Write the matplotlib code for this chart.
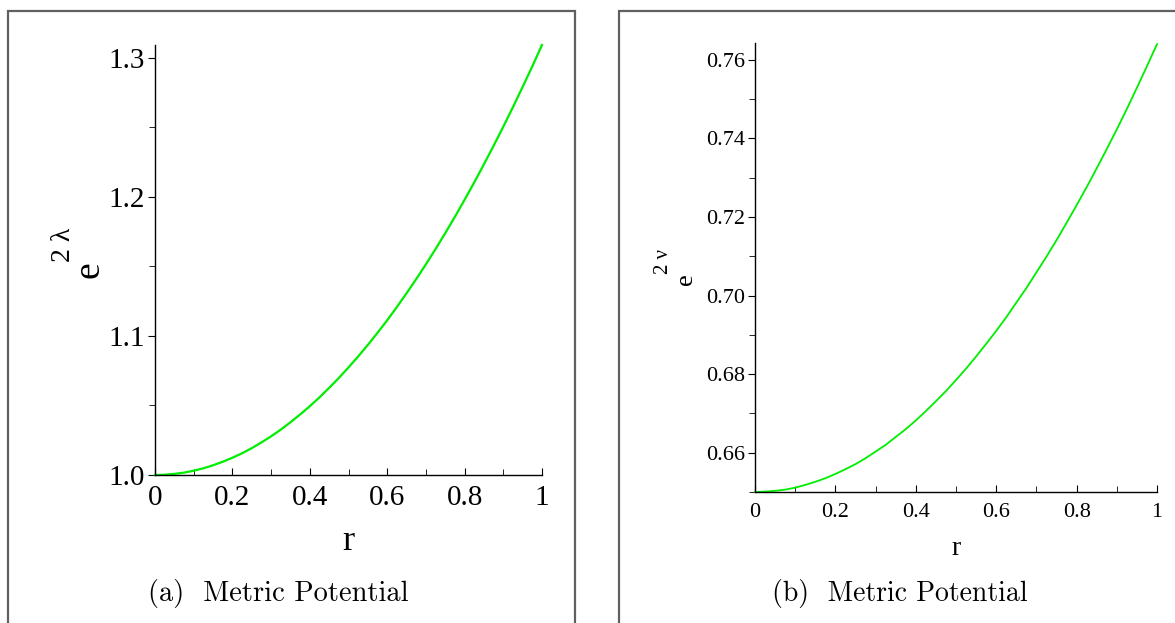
import matplotlib
matplotlib.use("Agg")
import matplotlib.pyplot as plt
from matplotlib.patches import Rectangle
from matplotlib.ticker import MultipleLocator, FormatStrFormatter

# values, r in steps of 0.025
r = [i * 0.025 for i in range(41)]
e2lambda = [1.0000, 1.0002, 1.0008, 1.0017, 1.0031, 1.0048, 1.0070, 1.0095, 1.0124, 1.0156,
            1.0193, 1.0234, 1.0278, 1.0326, 1.0379, 1.0435, 1.0494, 1.0558, 1.0626, 1.0697,
            1.0773, 1.0852, 1.0935, 1.1022, 1.1112, 1.1207, 1.1306, 1.1408, 1.1514, 1.1624,
            1.1738, 1.1856, 1.1978, 1.2103, 1.2233, 1.2366, 1.2503, 1.2644, 1.2789, 1.2937,
            1.3090]
e2nu = [0.6500, 0.6501, 0.6503, 0.6506, 0.6511, 0.6518, 0.6526, 0.6535, 0.6546, 0.6558,
        0.6571, 0.6586, 0.6603, 0.6620, 0.6640, 0.6660, 0.6682, 0.6706, 0.6731, 0.6757,
        0.6785, 0.6814, 0.6845, 0.6877, 0.6910, 0.6945, 0.6982, 0.7019, 0.7059, 0.7099,
        0.7141, 0.7185, 0.7230, 0.7276, 0.7324, 0.7373, 0.7423, 0.7475, 0.7529, 0.7584,
        0.7640]

xticks = [0, 0.2, 0.4, 0.6, 0.8, 1]
xtick_labels = ["0", "0.2", "0.4", "0.6", "0.8", "1"]

plt.rcParams["font.family"] = ["Liberation Serif", "DejaVu Serif"]

W, H = 1175, 623
fig = plt.figure(figsize=(W / 100, H / 100), dpi=100)

# panel frames
for x0, x1 in [(8, 575), (619, 1185)]:
    fig.add_artist(Rectangle((x0 / W, -0.1), (x1 - x0) / W, 1.1 - 11 / H,
                             transform=fig.transFigure, fill=False,
                             edgecolor="#606060", linewidth=1.6))


def style(ax, fs, pad, ylo, yhi, ymajor):
    for s in ["top", "right"]:
        ax.spines[s].set_visible(False)
    ax.spines["left"].set_linewidth(1.0)
    ax.spines["bottom"].set_linewidth(1.0)
    ax.set_xlim(0, 1)
    ax.set_ylim(ylo, yhi)
    ax.set_xticks(xticks)
    ax.set_xticklabels(xtick_labels)
    ax.xaxis.set_minor_locator(MultipleLocator(0.1))
    ax.yaxis.set_major_locator(MultipleLocator(ymajor))
    ax.yaxis.set_minor_locator(MultipleLocator(ymajor / 2))
    ax.tick_params(axis="x", which="both", direction="in", labelsize=fs, pad=pad)
    ax.tick_params(axis="x", which="major", length=5)
    ax.tick_params(axis="x", which="minor", length=4)
    ax.tick_params(axis="y", which="both", direction="out", labelsize=fs, pad=2)
    ax.tick_params(axis="y", which="major", length=5)
    ax.tick_params(axis="y", which="minor", length=4)


def ylabel(xe, ye, xs, ys, sup, fe, fsup):
    # Maple style rotated e with raised exponent
    fig.text(xe / W, 1 - ye / H, "e", fontsize=fe, rotation=90,
             ha="center", va="center")
    fig.text(xs / W, 1 - ys / H, sup, fontsize=fsup, rotation=90,
             ha="center", va="center")


# (a)
ax1 = fig.add_axes([155 / W, 1 - 475 / H, 387 / W, 430 / H])
ax1.plot(r, e2lambda, color="#00ee00", linewidth=1.6, clip_on=False)
style(ax1, 21, 7, 1.0, 1.309, 0.1)
ax1.yaxis.set_major_formatter(FormatStrFormatter("%.1f"))
ax1.set_xlabel("r", fontsize=26, labelpad=10)
ylabel(89, 270, 63, 245, "2 λ", 27, 20)
fig.text(278 / W, 1 - 593 / H, "(a)  Metric Potential", fontsize=20.5,
         family="cmr10", ha="center", va="center")

# (b)
ax2 = fig.add_axes([755 / W, 1 - 492 / H, 402 / W, 449 / H])
ax2.plot(r, e2nu, color="#00ee00", linewidth=1.3, clip_on=False)
style(ax2, 16, 8, 0.65, 0.7643, 0.02)
ax2.yaxis.set_major_formatter(FormatStrFormatter("%.2f"))
ax2.set_xlabel("r", fontsize=20, labelpad=10)
ylabel(686, 279, 664, 262, "2 ν", 19, 15)
fig.text(900 / W, 1 - 593 / H, "(b)  Metric Potential", fontsize=20,
         family="cmr10", ha="center", va="center")

fig.savefig("out.png", dpi=100)
